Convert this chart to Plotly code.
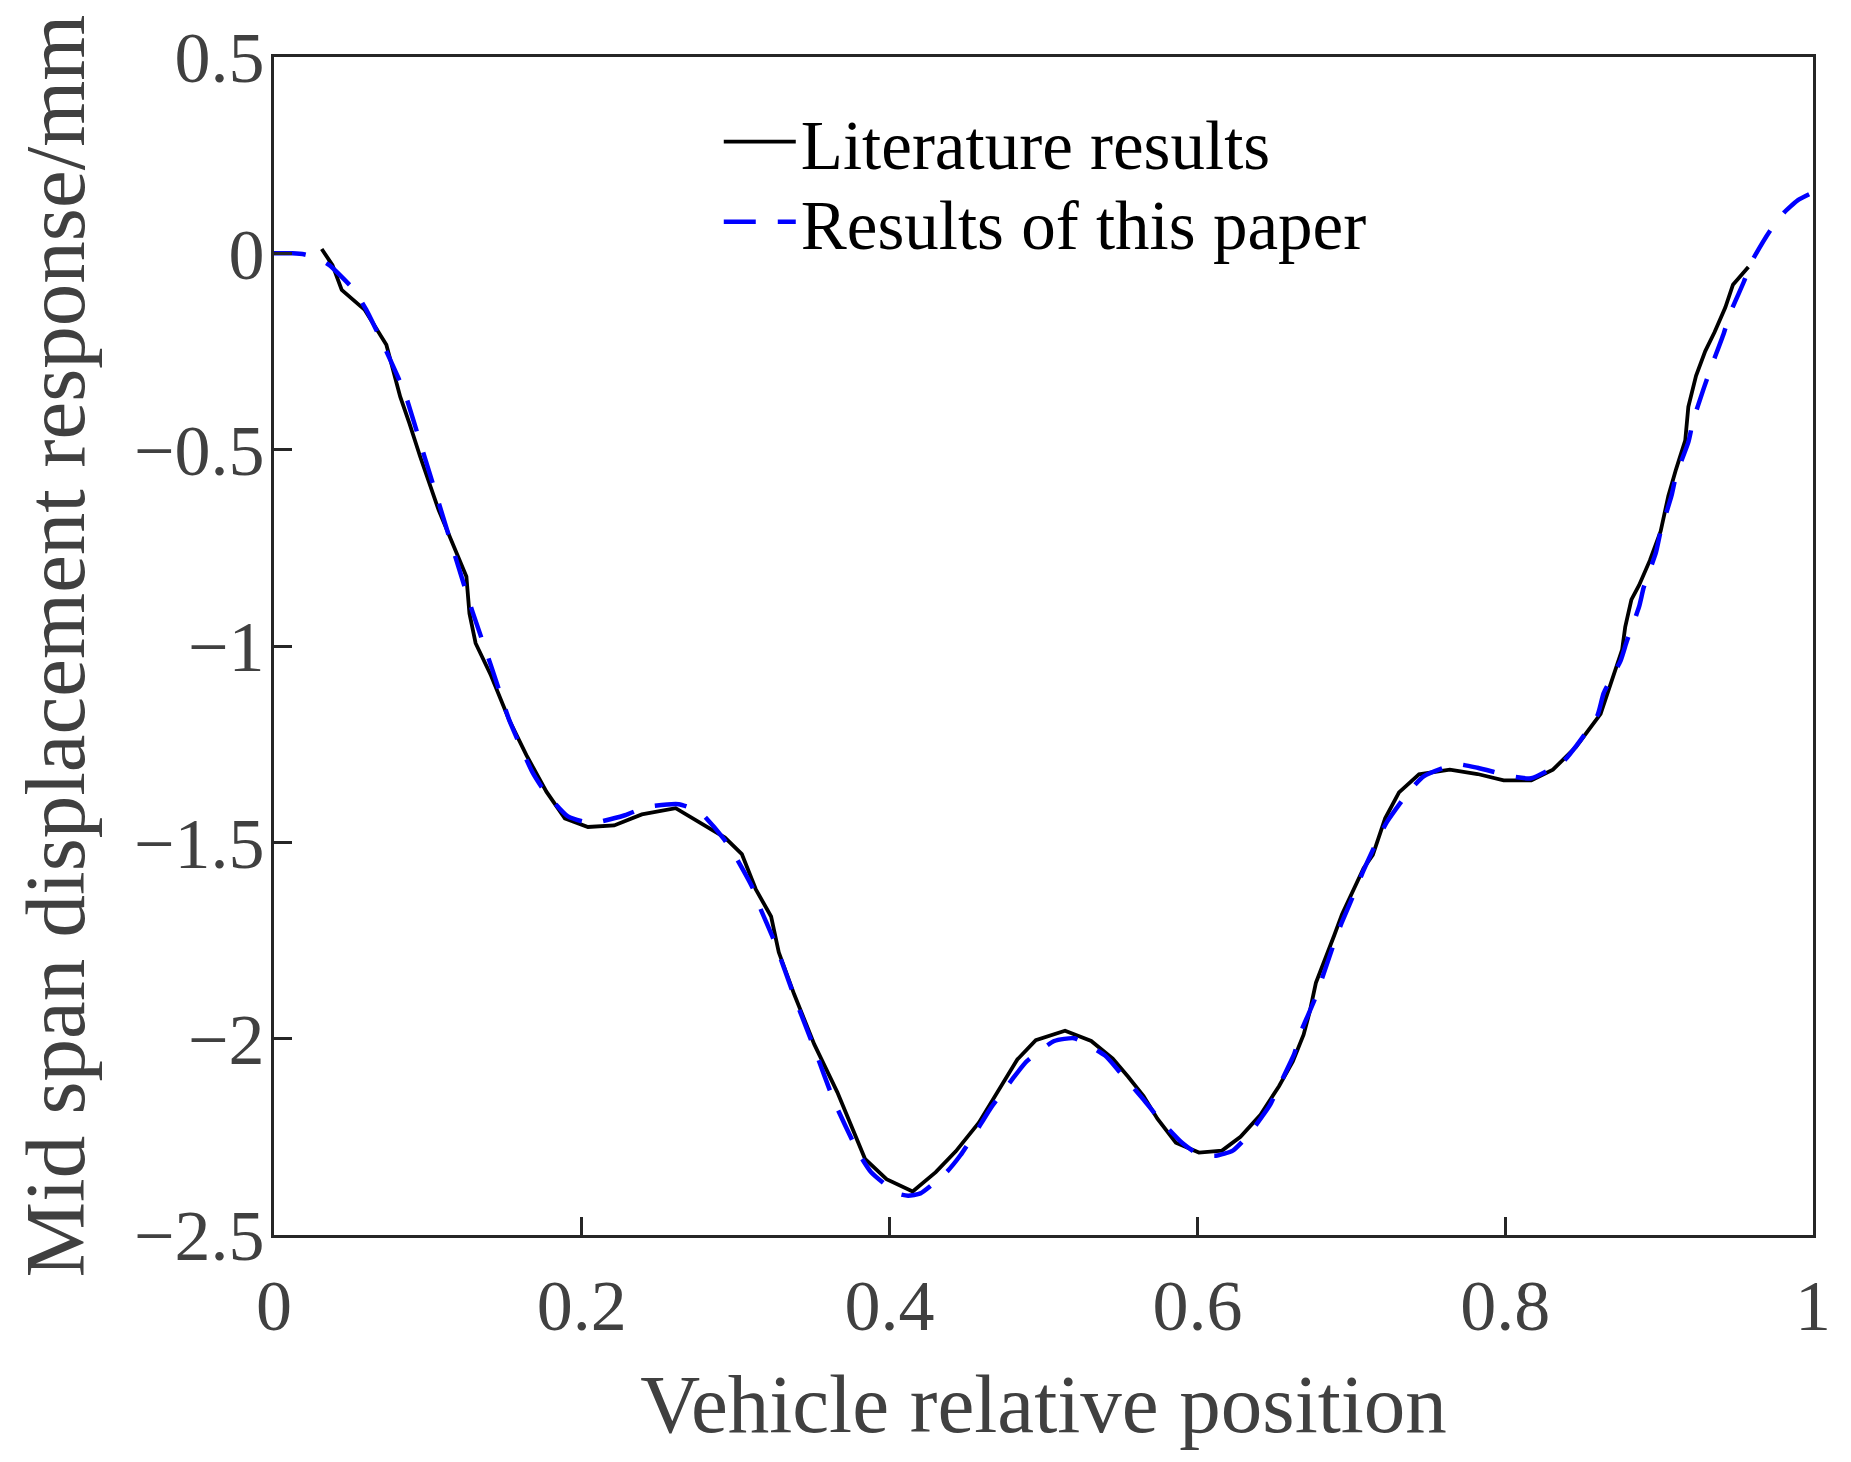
import plotly.graph_objects as go

# Literature results (black solid)
lit_x = [0.031, 0.038, 0.044, 0.059, 0.073, 0.082, 0.088, 0.095, 0.107, 0.120,
         0.125, 0.127, 0.131, 0.141, 0.153, 0.164, 0.177, 0.189, 0.204, 0.221,
         0.239, 0.261, 0.293, 0.304, 0.313, 0.323, 0.328, 0.338, 0.351, 0.366,
         0.376, 0.384, 0.398, 0.415, 0.430, 0.443, 0.458, 0.468, 0.483, 0.495,
         0.514, 0.531, 0.545, 0.555, 0.565, 0.574, 0.586, 0.601, 0.616, 0.628,
         0.641, 0.653, 0.662, 0.669, 0.673, 0.677, 0.683, 0.689, 0.694, 0.702,
         0.708, 0.714, 0.722, 0.731, 0.744, 0.764, 0.782, 0.799, 0.817, 0.831,
         0.846, 0.862, 0.869, 0.876, 0.878, 0.882, 0.887, 0.894, 0.901, 0.906,
         0.911, 0.917, 0.919, 0.924, 0.930, 0.936, 0.943, 0.948, 0.958]
lit_y = [0.011, -0.030, -0.093, -0.144, -0.233, -0.365, -0.433, -0.518, -0.654, -0.777,
         -0.823, -0.917, -0.993, -1.075, -1.190, -1.278, -1.371, -1.439, -1.461, -1.457,
         -1.429, -1.413, -1.488, -1.530, -1.619, -1.689, -1.780, -1.887, -2.014, -2.136,
         -2.233, -2.306, -2.358, -2.389, -2.340, -2.287, -2.214, -2.150, -2.053, -2.004,
         -1.980, -2.006, -2.051, -2.097, -2.146, -2.204, -2.265, -2.290, -2.285, -2.250,
         -2.194, -2.121, -2.058, -1.990, -1.931, -1.858, -1.800, -1.736, -1.683, -1.614,
         -1.566, -1.532, -1.439, -1.373, -1.327, -1.315, -1.326, -1.342, -1.342, -1.315,
         -1.257, -1.173, -1.094, -1.009, -0.951, -0.882, -0.845, -0.782, -0.708, -0.618,
         -0.550, -0.476, -0.391, -0.312, -0.249, -0.201, -0.138, -0.080, -0.035]

# Results of this paper (blue dashed)
paper_x = [0.000, 0.012, 0.020, 0.028, 0.036, 0.044, 0.052, 0.060, 0.070, 0.076,
           0.085, 0.096, 0.107, 0.118, 0.129, 0.141, 0.153, 0.168, 0.176, 0.191,
           0.206, 0.228, 0.242, 0.263, 0.277, 0.292, 0.300, 0.311, 0.316, 0.325,
           0.338, 0.351, 0.364, 0.380, 0.388, 0.405, 0.412, 0.420, 0.437, 0.446,
           0.459, 0.466, 0.480, 0.489, 0.507, 0.520, 0.540, 0.550, 0.565, 0.574,
           0.590, 0.601, 0.612, 0.623, 0.633, 0.647, 0.653, 0.663, 0.667, 0.676,
           0.688, 0.693, 0.702, 0.707, 0.717, 0.723, 0.737, 0.747, 0.768, 0.782,
           0.804, 0.817, 0.838, 0.847, 0.860, 0.864, 0.875, 0.879, 0.887, 0.890,
           0.898, 0.901, 0.908, 0.911, 0.919, 0.922, 0.929, 0.934, 0.942, 0.946,
           0.955, 0.960, 0.972, 0.981, 0.990, 1.000]
paper_y = [0.000, 0.000, -0.003, -0.012, -0.030, -0.060, -0.093, -0.144, -0.224, -0.275,
           -0.356, -0.495, -0.635, -0.775, -0.913, -1.050, -1.190, -1.322, -1.371, -1.434,
           -1.451, -1.431, -1.410, -1.403, -1.424, -1.490, -1.537, -1.616, -1.668, -1.751,
           -1.892, -2.024, -2.160, -2.292, -2.340, -2.394, -2.400, -2.394, -2.340, -2.297,
           -2.219, -2.175, -2.102, -2.058, -2.006, -1.999, -2.043, -2.087, -2.155, -2.199,
           -2.265, -2.295, -2.298, -2.285, -2.246, -2.170, -2.121, -2.038, -1.985, -1.902,
           -1.766, -1.712, -1.629, -1.580, -1.495, -1.449, -1.373, -1.332, -1.301, -1.310,
           -1.332, -1.337, -1.293, -1.250, -1.176, -1.120, -1.037, -0.988, -0.900, -0.851,
           -0.761, -0.708, -0.618, -0.566, -0.481, -0.428, -0.344, -0.288, -0.204, -0.154,
           -0.073, -0.022, 0.057, 0.103, 0.135, 0.155]

x_ticks = [0, 0.2, 0.4, 0.6, 0.8, 1]
x_ticktext = ["0", "0.2", "0.4", "0.6", "0.8", "1"]
y_ticks = [0.5, 0, -0.5, -1, -1.5, -2, -2.5]
y_ticktext = ["0.5", "0", "\u22120.5", "\u22121", "\u22121.5", "\u22122", "\u22122.5"]

SERIF = "Liberation Serif, Times New Roman, serif"
GREY = "#404040"

fig = go.Figure()
fig.add_trace(go.Scatter(
    x=lit_x, y=lit_y, mode="lines", name="Literature results",
    line=dict(color="black", width=3.8), legend="legend",
))
fig.add_trace(go.Scatter(
    x=paper_x, y=paper_y, mode="lines", name="Results of this paper",
    line=dict(color="#0000ff", width=4.5, dash="32px,22px", shape="spline", smoothing=0.5),
    legend="legend2",
))

axis_common = dict(
    showgrid=False, zeroline=False, automargin=False,
    showline=True, linecolor="#262626", linewidth=3, mirror=True,
    ticks="inside", ticklen=18, tickwidth=3, tickcolor="#262626",
    tickfont=dict(family=SERIF, size=72, color=GREY),
)

fig.update_xaxes(
    range=[0, 1], tickvals=x_ticks, ticktext=x_ticktext, ticklabelstandoff=6,
    title=dict(text="Vehicle relative position", font=dict(family=SERIF, size=83, color=GREY),
               standoff=29),
    **axis_common,
)
fig.update_yaxes(
    range=[-2.5, 0.5], tickvals=y_ticks, ticktext=y_ticktext, ticklabelstandoff=-8,
    title=dict(text="Mid span displacement response/mm", font=dict(family=SERIF, size=85, color=GREY),
               standoff=32),
    **axis_common,
)

legend_style = dict(
    xanchor="left", yanchor="middle",
    bgcolor="rgba(0,0,0,0)", borderwidth=0,
    font=dict(family=SERIF, size=69, color="black"),
    itemwidth=72,
)

# page body adds an 8px offset, so margins are shifted to compensate
fig.update_layout(
    width=1851, height=1462,
    margin=dict(l=266, r=46, t=49, b=235),
    plot_bgcolor="white", paper_bgcolor="white",
    showlegend=True,
    legend=dict(x=0.289, y=0.928, **legend_style),
    legend2=dict(x=0.289, y=0.860, **legend_style),
)

fig.write_html("out.html")
